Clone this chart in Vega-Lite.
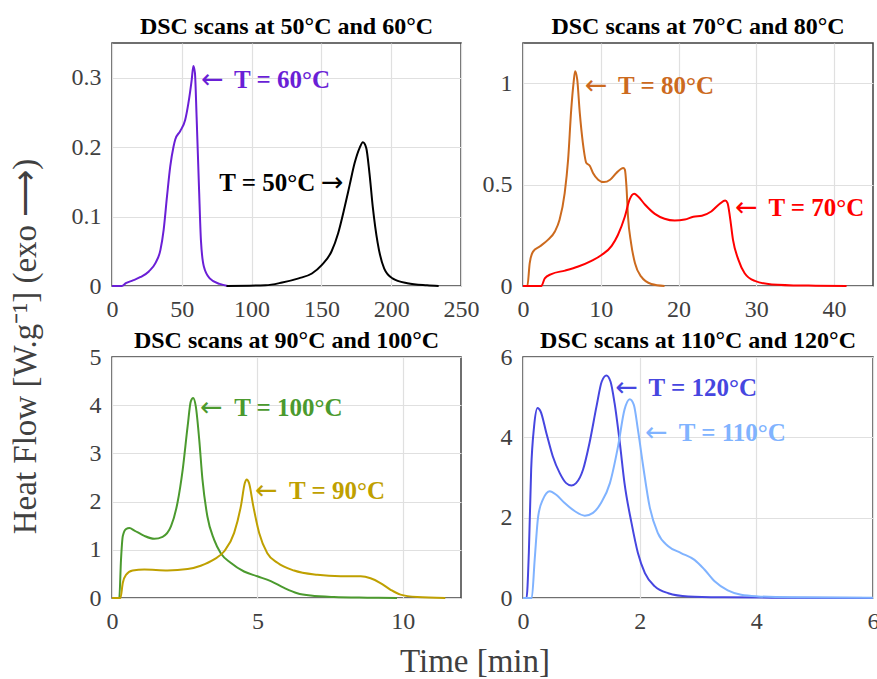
{
  "$schema": "https://vega.github.io/schema/vega-lite/v6.json",
  "background": "white",
  "padding": {"left": 10, "right": 5, "top": 14, "bottom": 0},
  "title": {"text": "Heat Flow [W.g⁻¹] (exo ⟶)", "orient": "left", "anchor": "middle", "frame": "bounds", "fontSize": 33, "fontWeight": "normal", "color": "#404040", "offset": 27},
  "vconcat": [
    {
      "title": {"text": "Time [min]", "orient": "bottom", "anchor": "middle", "frame": "bounds", "fontSize": 33, "fontWeight": "normal", "color": "#404040", "offset": 12},
      "columns": 2,
      "spacing": {"row": 71, "column": 62},
      "bounds": "flush",
      "concat": [
        {
          "title": "DSC scans at 50°C and 60°C",
          "width": 349, "height": 243,
          "data": {"values": [
            {"s":"60","t":0,"hf":0},{"s":"60","t":7,"hf":0},{"s":"60","t":9.9,"hf":0.004},{"s":"60","t":15,"hf":0.008},{"s":"60","t":20.5,"hf":0.013},{"s":"60","t":26.4,"hf":0.021},{"s":"60","t":31.1,"hf":0.033},{"s":"60","t":34.7,"hf":0.052},{"s":"60","t":37,"hf":0.081},{"s":"60","t":39.4,"hf":0.129},{"s":"60","t":41.7,"hf":0.172},{"s":"60","t":44.1,"hf":0.201},{"s":"60","t":45.3,"hf":0.211},{"s":"60","t":48.8,"hf":0.223},{"s":"60","t":52.4,"hf":0.239},{"s":"60","t":54.7,"hf":0.263},{"s":"60","t":57.1,"hf":0.297},{"s":"60","t":58.3,"hf":0.317},{"s":"60","t":59.4,"hf":0.307},{"s":"60","t":60.6,"hf":0.244},{"s":"60","t":62.3,"hf":0.143},{"s":"60","t":63.7,"hf":0.066},{"s":"60","t":65.8,"hf":0.028},{"s":"60","t":70,"hf":0.011},{"s":"60","t":77.1,"hf":0.003},{"s":"60","t":83,"hf":0},
            {"s":"50","t":82,"hf":0},{"s":"50","t":110,"hf":0.001},{"s":"50","t":121.9,"hf":0.005},{"s":"50","t":133.7,"hf":0.011},{"s":"50","t":143.2,"hf":0.018},{"s":"50","t":150.2,"hf":0.03},{"s":"50","t":157.3,"hf":0.05},{"s":"50","t":162,"hf":0.076},{"s":"50","t":166.7,"hf":0.114},{"s":"50","t":170.3,"hf":0.146},{"s":"50","t":173.8,"hf":0.177},{"s":"50","t":177.4,"hf":0.199},{"s":"50","t":179.7,"hf":0.207},{"s":"50","t":182.1,"hf":0.199},{"s":"50","t":184.4,"hf":0.163},{"s":"50","t":186.8,"hf":0.114},{"s":"50","t":190.3,"hf":0.062},{"s":"50","t":195,"hf":0.025},{"s":"50","t":200.9,"hf":0.011},{"s":"50","t":211.6,"hf":0.004},{"s":"50","t":225.7,"hf":0.001},{"s":"50","t":234,"hf":0}
          ]},
          "layer": [
            {
              "mark": {"type": "line", "interpolate": "monotone", "strokeWidth": 2},
              "encoding": {
                "x": {"field": "t", "type": "quantitative", "title": null, "scale": {"domain": [0, 250], "nice": false}, "axis": {"values": [0, 50, 100, 150, 200, 250]}},
                "y": {"field": "hf", "type": "quantitative", "title": null, "scale": {"domain": [0, 0.35], "nice": false}, "axis": {"values": [0, 0.1, 0.2, 0.3], "format": "~g"}},
                "color": {"field": "s", "type": "nominal", "legend": null, "scale": {"domain": ["50", "60", "70", "80", "90", "100", "110", "120"], "range": ["#000000", "#6a1fd6", "#ff0000", "#cc6a1e", "#bfa000", "#4b9a2e", "#80b3ff", "#4646e0"]}}
              }
            },
            {
              "data": {"values": [
                {"s": "60", "t": 87.4, "hf": 0.297, "label": "T = 60°C"},
                {"s": "50", "t": 76.9, "hf": 0.148, "label": "T = 50°C"}
              ]},
              "mark": {"type": "text", "align": "left", "baseline": "middle", "fontSize": 25, "fontWeight": "bold", "font": "Liberation Serif"},
              "encoding": {
                "x": {"field": "t", "type": "quantitative"},
                "y": {"field": "hf", "type": "quantitative"},
                "text": {"field": "label"},
                "color": {"field": "s", "type": "nominal", "legend": null, "scale": {"domain": ["50", "60", "70", "80", "90", "100", "110", "120"], "range": ["#000000", "#6a1fd6", "#ff0000", "#cc6a1e", "#bfa000", "#4b9a2e", "#80b3ff", "#4646e0"]}}
              }
            },
            {
              "data": {"values": [
                {"s": "60", "t": 63.8, "hf": 0.297, "label": "←"},
                {"s": "50", "t": 149.7, "hf": 0.148, "label": "→"}
              ]},
              "mark": {"type": "text", "align": "left", "baseline": "middle", "fontSize": 27, "fontWeight": "normal", "font": "DejaVu Sans"},
              "encoding": {
                "x": {"field": "t", "type": "quantitative"},
                "y": {"field": "hf", "type": "quantitative"},
                "text": {"field": "label"},
                "color": {"field": "s", "type": "nominal", "legend": null, "scale": {"domain": ["50", "60", "70", "80", "90", "100", "110", "120"], "range": ["#000000", "#6a1fd6", "#ff0000", "#cc6a1e", "#bfa000", "#4b9a2e", "#80b3ff", "#4646e0"]}}
              }
            }
          ]
        },
        {
          "title": "DSC scans at 70°C and 80°C",
          "width": 350, "height": 243,
          "data": {"values": [
            {"s":"80","t":0,"hf":0},{"s":"80","t":0.56,"hf":0},{"s":"80","t":0.86,"hf":0.112},{"s":"80","t":1.29,"hf":0.17},{"s":"80","t":2.15,"hf":0.195},{"s":"80","t":3.2,"hf":0.228},{"s":"80","t":4.1,"hf":0.269},{"s":"80","t":4.7,"hf":0.327},{"s":"80","t":5.36,"hf":0.459},{"s":"80","t":5.8,"hf":0.624},{"s":"80","t":6.2,"hf":0.871},{"s":"80","t":6.5,"hf":1.003},{"s":"80","t":6.7,"hf":1.061},{"s":"80","t":6.97,"hf":1.02},{"s":"80","t":7.3,"hf":0.855},{"s":"80","t":7.7,"hf":0.706},{"s":"80","t":8.15,"hf":0.607},{"s":"80","t":8.58,"hf":0.594},{"s":"80","t":9.0,"hf":0.558},{"s":"80","t":9.66,"hf":0.525},{"s":"80","t":10.4,"hf":0.513},{"s":"80","t":11.2,"hf":0.525},{"s":"80","t":12.0,"hf":0.558},{"s":"80","t":12.9,"hf":0.583},{"s":"80","t":13.1,"hf":0.574},{"s":"80","t":13.3,"hf":0.492},{"s":"80","t":13.5,"hf":0.343},{"s":"80","t":13.9,"hf":0.211},{"s":"80","t":14.4,"hf":0.112},{"s":"80","t":15.2,"hf":0.046},{"s":"80","t":16.5,"hf":0.01},{"s":"80","t":18.2,"hf":0},
            {"s":"70","t":0,"hf":0},{"s":"70","t":2.36,"hf":0},{"s":"70","t":2.8,"hf":0.038},{"s":"70","t":3.65,"hf":0.059},{"s":"70","t":5.4,"hf":0.076},{"s":"70","t":7.1,"hf":0.096},{"s":"70","t":8.8,"hf":0.124},{"s":"70","t":10.1,"hf":0.153},{"s":"70","t":11.4,"hf":0.198},{"s":"70","t":12.2,"hf":0.252},{"s":"70","t":13.1,"hf":0.343},{"s":"70","t":13.7,"hf":0.426},{"s":"70","t":14.3,"hf":0.455},{"s":"70","t":14.8,"hf":0.442},{"s":"70","t":15.7,"hf":0.401},{"s":"70","t":16.95,"hf":0.356},{"s":"70","t":18.2,"hf":0.332},{"s":"70","t":19.5,"hf":0.323},{"s":"70","t":20.8,"hf":0.328},{"s":"70","t":21.9,"hf":0.342},{"s":"70","t":23,"hf":0.347},{"s":"70","t":24.2,"hf":0.368},{"s":"70","t":25.3,"hf":0.406},{"s":"70","t":26,"hf":0.422},{"s":"70","t":26.3,"hf":0.409},{"s":"70","t":26.6,"hf":0.343},{"s":"70","t":27.0,"hf":0.228},{"s":"70","t":27.7,"hf":0.129},{"s":"70","t":28.5,"hf":0.063},{"s":"70","t":29.8,"hf":0.025},{"s":"70","t":32,"hf":0.008},{"s":"70","t":36.7,"hf":0.002},{"s":"70","t":41.6,"hf":0}
          ]},
          "layer": [
            {
              "mark": {"type": "line", "interpolate": "monotone", "strokeWidth": 2},
              "encoding": {
                "x": {"field": "t", "type": "quantitative", "title": null, "scale": {"domain": [0, 45], "nice": false}, "axis": {"values": [0, 10, 20, 30, 40]}},
                "y": {"field": "hf", "type": "quantitative", "title": null, "scale": {"domain": [0, 1.2], "nice": false}, "axis": {"values": [0, 0.5, 1], "format": "~g"}},
                "color": {"field": "s", "type": "nominal", "legend": null, "scale": {"domain": ["50", "60", "70", "80", "90", "100", "110", "120"], "range": ["#000000", "#6a1fd6", "#ff0000", "#cc6a1e", "#bfa000", "#4b9a2e", "#80b3ff", "#4646e0"]}}
              }
            },
            {
              "data": {"values": [
                {"s": "80", "t": 12.23, "hf": 0.987, "label": "T = 80°C"},
                {"s": "70", "t": 31.55, "hf": 0.384, "label": "T = 70°C"}
              ]},
              "mark": {"type": "text", "align": "left", "baseline": "middle", "fontSize": 25, "fontWeight": "bold", "font": "Liberation Serif"},
              "encoding": {
                "x": {"field": "t", "type": "quantitative"},
                "y": {"field": "hf", "type": "quantitative"},
                "text": {"field": "label"},
                "color": {"field": "s", "type": "nominal", "legend": null, "scale": {"domain": ["50", "60", "70", "80", "90", "100", "110", "120"], "range": ["#000000", "#6a1fd6", "#ff0000", "#cc6a1e", "#bfa000", "#4b9a2e", "#80b3ff", "#4646e0"]}}
              }
            },
            {
              "data": {"values": [
                {"s": "80", "t": 7.94, "hf": 0.987, "label": "←"},
                {"s": "70", "t": 27.25, "hf": 0.384, "label": "←"}
              ]},
              "mark": {"type": "text", "align": "left", "baseline": "middle", "fontSize": 27, "fontWeight": "normal", "font": "DejaVu Sans"},
              "encoding": {
                "x": {"field": "t", "type": "quantitative"},
                "y": {"field": "hf", "type": "quantitative"},
                "text": {"field": "label"},
                "color": {"field": "s", "type": "nominal", "legend": null, "scale": {"domain": ["50", "60", "70", "80", "90", "100", "110", "120"], "range": ["#000000", "#6a1fd6", "#ff0000", "#cc6a1e", "#bfa000", "#4b9a2e", "#80b3ff", "#4646e0"]}}
              }
            }
          ]
        },
        {
          "title": {"text": "DSC scans at 90°C and 100°C", "offset": -8},
          "width": 349, "height": 241,
          "data": {"values": [
            {"s":"100","t":0,"hf":0},{"s":"100","t":0.25,"hf":0},{"s":"100","t":0.31,"hf":0.8},{"s":"100","t":0.37,"hf":1.28},{"s":"100","t":0.48,"hf":1.43},{"s":"100","t":0.6,"hf":1.45},{"s":"100","t":0.77,"hf":1.4},{"s":"100","t":1.11,"hf":1.29},{"s":"100","t":1.45,"hf":1.23},{"s":"100","t":1.74,"hf":1.27},{"s":"100","t":2.03,"hf":1.49},{"s":"100","t":2.25,"hf":1.97},{"s":"100","t":2.43,"hf":2.66},{"s":"100","t":2.6,"hf":3.56},{"s":"100","t":2.71,"hf":4.08},{"s":"100","t":2.79,"hf":4.15},{"s":"100","t":2.88,"hf":3.98},{"s":"100","t":3.0,"hf":3.28},{"s":"100","t":3.11,"hf":2.46},{"s":"100","t":3.28,"hf":1.69},{"s":"100","t":3.51,"hf":1.21},{"s":"100","t":3.74,"hf":0.93},{"s":"100","t":4.08,"hf":0.73},{"s":"100","t":4.54,"hf":0.55},{"s":"100","t":5.0,"hf":0.45},{"s":"100","t":5.46,"hf":0.35},{"s":"100","t":5.92,"hf":0.21},{"s":"100","t":6.37,"hf":0.1},{"s":"100","t":6.83,"hf":0.05},{"s":"100","t":7.63,"hf":0.02},{"s":"100","t":8.78,"hf":0.007},{"s":"100","t":9.8,"hf":0},
            {"s":"90","t":0,"hf":0},{"s":"90","t":0.29,"hf":0},{"s":"90","t":0.37,"hf":0.31},{"s":"90","t":0.48,"hf":0.48},{"s":"90","t":0.71,"hf":0.57},{"s":"90","t":1.11,"hf":0.59},{"s":"90","t":1.91,"hf":0.57},{"s":"90","t":2.6,"hf":0.6},{"s":"90","t":3.05,"hf":0.67},{"s":"90","t":3.51,"hf":0.8},{"s":"90","t":3.86,"hf":0.97},{"s":"90","t":4.2,"hf":1.35},{"s":"90","t":4.43,"hf":1.9},{"s":"90","t":4.57,"hf":2.39},{"s":"90","t":4.63,"hf":2.46},{"s":"90","t":4.71,"hf":2.39},{"s":"90","t":4.86,"hf":1.9},{"s":"90","t":5.06,"hf":1.35},{"s":"90","t":5.34,"hf":0.93},{"s":"90","t":5.69,"hf":0.73},{"s":"90","t":6.26,"hf":0.57},{"s":"90","t":7.06,"hf":0.48},{"s":"90","t":7.86,"hf":0.45},{"s":"90","t":8.55,"hf":0.45},{"s":"90","t":8.89,"hf":0.41},{"s":"90","t":9.23,"hf":0.31},{"s":"90","t":9.58,"hf":0.17},{"s":"90","t":9.92,"hf":0.07},{"s":"90","t":10.49,"hf":0.02},{"s":"90","t":11.46,"hf":0}
          ]},
          "layer": [
            {
              "mark": {"type": "line", "interpolate": "monotone", "strokeWidth": 2},
              "encoding": {
                "x": {"field": "t", "type": "quantitative", "title": null, "scale": {"domain": [0, 12], "nice": false}, "axis": {"values": [0, 5, 10]}},
                "y": {"field": "hf", "type": "quantitative", "title": null, "scale": {"domain": [0, 5], "nice": false}, "axis": {"values": [0, 1, 2, 3, 4, 5]}},
                "color": {"field": "s", "type": "nominal", "legend": null, "scale": {"domain": ["50", "60", "70", "80", "90", "100", "110", "120"], "range": ["#000000", "#6a1fd6", "#ff0000", "#cc6a1e", "#bfa000", "#4b9a2e", "#80b3ff", "#4646e0"]}}
              }
            },
            {
              "data": {"values": [
                {"s": "100", "t": 4.2, "hf": 3.94, "label": "T = 100°C"},
                {"s": "90", "t": 6.09, "hf": 2.23, "label": "T = 90°C"}
              ]},
              "mark": {"type": "text", "align": "left", "baseline": "middle", "fontSize": 25, "fontWeight": "bold", "font": "Liberation Serif"},
              "encoding": {
                "x": {"field": "t", "type": "quantitative"},
                "y": {"field": "hf", "type": "quantitative"},
                "text": {"field": "label"},
                "color": {"field": "s", "type": "nominal", "legend": null, "scale": {"domain": ["50", "60", "70", "80", "90", "100", "110", "120"], "range": ["#000000", "#6a1fd6", "#ff0000", "#cc6a1e", "#bfa000", "#4b9a2e", "#80b3ff", "#4646e0"]}}
              }
            },
            {
              "data": {"values": [
                {"s": "100", "t": 3.03, "hf": 3.94, "label": "←"},
                {"s": "90", "t": 4.92, "hf": 2.23, "label": "←"}
              ]},
              "mark": {"type": "text", "align": "left", "baseline": "middle", "fontSize": 27, "fontWeight": "normal", "font": "DejaVu Sans"},
              "encoding": {
                "x": {"field": "t", "type": "quantitative"},
                "y": {"field": "hf", "type": "quantitative"},
                "text": {"field": "label"},
                "color": {"field": "s", "type": "nominal", "legend": null, "scale": {"domain": ["50", "60", "70", "80", "90", "100", "110", "120"], "range": ["#000000", "#6a1fd6", "#ff0000", "#cc6a1e", "#bfa000", "#4b9a2e", "#80b3ff", "#4646e0"]}}
              }
            }
          ]
        },
        {
          "title": {"text": "DSC scans at 110°C and 120°C", "offset": -8},
          "width": 350, "height": 241,
          "data": {"values": [
            {"s":"120","t":0,"hf":0},{"s":"120","t":0.06,"hf":0},{"s":"120","t":0.1,"hf":1.12},{"s":"120","t":0.14,"hf":3.2},{"s":"120","t":0.19,"hf":4.27},{"s":"120","t":0.25,"hf":4.73},{"s":"120","t":0.3,"hf":4.65},{"s":"120","t":0.4,"hf":4.11},{"s":"120","t":0.51,"hf":3.53},{"s":"120","t":0.63,"hf":3.11},{"s":"120","t":0.74,"hf":2.86},{"s":"120","t":0.83,"hf":2.8},{"s":"120","t":0.91,"hf":2.86},{"s":"120","t":1.03,"hf":3.2},{"s":"120","t":1.14,"hf":3.86},{"s":"120","t":1.26,"hf":4.77},{"s":"120","t":1.35,"hf":5.39},{"s":"120","t":1.43,"hf":5.54},{"s":"120","t":1.5,"hf":5.39},{"s":"120","t":1.57,"hf":4.85},{"s":"120","t":1.66,"hf":3.86},{"s":"120","t":1.74,"hf":2.86},{"s":"120","t":1.86,"hf":1.87},{"s":"120","t":1.97,"hf":1.12},{"s":"120","t":2.09,"hf":0.62},{"s":"120","t":2.26,"hf":0.29},{"s":"120","t":2.49,"hf":0.12},{"s":"120","t":2.83,"hf":0.04},{"s":"120","t":3.46,"hf":0.017},{"s":"120","t":4.31,"hf":0.008},{"s":"120","t":6.0,"hf":0.003},
            {"s":"110","t":0,"hf":0},{"s":"110","t":0.15,"hf":0},{"s":"110","t":0.2,"hf":0.95},{"s":"110","t":0.26,"hf":2.03},{"s":"110","t":0.34,"hf":2.45},{"s":"110","t":0.46,"hf":2.66},{"s":"110","t":0.57,"hf":2.57},{"s":"110","t":0.71,"hf":2.37},{"s":"110","t":0.89,"hf":2.16},{"s":"110","t":1.06,"hf":2.05},{"s":"110","t":1.2,"hf":2.12},{"s":"110","t":1.34,"hf":2.37},{"s":"110","t":1.49,"hf":2.86},{"s":"110","t":1.63,"hf":3.78},{"s":"110","t":1.74,"hf":4.69},{"s":"110","t":1.83,"hf":4.95},{"s":"110","t":1.9,"hf":4.81},{"s":"110","t":1.97,"hf":4.19},{"s":"110","t":2.06,"hf":3.28},{"s":"110","t":2.17,"hf":2.28},{"s":"110","t":2.31,"hf":1.62},{"s":"110","t":2.49,"hf":1.29},{"s":"110","t":2.71,"hf":1.12},{"s":"110","t":2.94,"hf":0.95},{"s":"110","t":3.11,"hf":0.71},{"s":"110","t":3.29,"hf":0.41},{"s":"110","t":3.51,"hf":0.19},{"s":"110","t":3.74,"hf":0.08},{"s":"110","t":4.03,"hf":0.04},{"s":"110","t":4.6,"hf":0.017},{"s":"110","t":6.0,"hf":0.008}
          ]},
          "layer": [
            {
              "mark": {"type": "line", "interpolate": "monotone", "strokeWidth": 2},
              "encoding": {
                "x": {"field": "t", "type": "quantitative", "title": null, "scale": {"domain": [0, 6], "nice": false}, "axis": {"values": [0, 2, 4, 6], "format": "~g"}},
                "y": {"field": "hf", "type": "quantitative", "title": null, "scale": {"domain": [0, 6], "nice": false}, "axis": {"values": [0, 2, 4, 6], "format": "~g"}},
                "color": {"field": "s", "type": "nominal", "legend": null, "scale": {"domain": ["50", "60", "70", "80", "90", "100", "110", "120"], "range": ["#000000", "#6a1fd6", "#ff0000", "#cc6a1e", "#bfa000", "#4b9a2e", "#80b3ff", "#4646e0"]}}
              }
            },
            {
              "data": {"values": [
                {"s": "120", "t": 2.15, "hf": 5.23, "label": "T = 120°C"},
                {"s": "110", "t": 2.67, "hf": 4.12, "label": "T = 110°C"}
              ]},
              "mark": {"type": "text", "align": "left", "baseline": "middle", "fontSize": 25, "fontWeight": "bold", "font": "Liberation Serif"},
              "encoding": {
                "x": {"field": "t", "type": "quantitative"},
                "y": {"field": "hf", "type": "quantitative"},
                "text": {"field": "label"},
                "color": {"field": "s", "type": "nominal", "legend": null, "scale": {"domain": ["50", "60", "70", "80", "90", "100", "110", "120"], "range": ["#000000", "#6a1fd6", "#ff0000", "#cc6a1e", "#bfa000", "#4b9a2e", "#80b3ff", "#4646e0"]}}
              }
            },
            {
              "data": {"values": [
                {"s": "120", "t": 1.58, "hf": 5.23, "label": "←"},
                {"s": "110", "t": 2.09, "hf": 4.12, "label": "←"}
              ]},
              "mark": {"type": "text", "align": "left", "baseline": "middle", "fontSize": 27, "fontWeight": "normal", "font": "DejaVu Sans"},
              "encoding": {
                "x": {"field": "t", "type": "quantitative"},
                "y": {"field": "hf", "type": "quantitative"},
                "text": {"field": "label"},
                "color": {"field": "s", "type": "nominal", "legend": null, "scale": {"domain": ["50", "60", "70", "80", "90", "100", "110", "120"], "range": ["#000000", "#6a1fd6", "#ff0000", "#cc6a1e", "#bfa000", "#4b9a2e", "#80b3ff", "#4646e0"]}}
              }
            }
          ]
        }
      ]
    }
  ],
  "config": {
    "font": "Liberation Serif",
    "view": {"stroke": "#404040", "strokeWidth": 1.5},
    "axis": {"labelFont": "Liberation Serif", "labelFontSize": 24, "labelColor": "#404040", "gridColor": "#e0e0e0", "gridWidth": 1.2, "domain": false, "ticks": false, "labelPadding": 11, "labelFlush": false, "labelOverlap": false},
    "title": {"font": "Liberation Serif", "fontSize": 24, "fontWeight": "bold", "color": "#000000", "offset": 4}
  }
}
